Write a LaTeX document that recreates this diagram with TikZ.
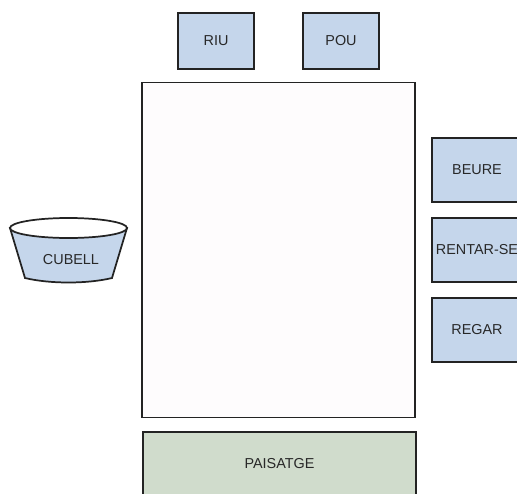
\documentclass[tikz,border=0pt]{standalone}
\usepackage{fontspec}
\setmainfont{Liberation Sans}
\definecolor{boxblue}{RGB}{197,214,235}
\definecolor{boxgreen}{RGB}{208,220,204}
\definecolor{sheet}{RGB}{254,252,253}
\definecolor{edgegray}{RGB}{35,35,35}
\definecolor{labelgray}{RGB}{40,40,40}

\tikzset{every picture/.style={line width=0.75pt}}
\tikzset{
  tool/.style={draw=edgegray, fill=boxblue, line width=1.3pt, inner sep=0pt,
    minimum width=57pt, minimum height=42pt, text=labelgray,
    font=\fontsize{10.8}{12}\selectfont},
  verb/.style={tool, minimum width=67.5pt, minimum height=48pt},
  land/.style={tool, fill=boxgreen, minimum width=204.75pt, minimum height=48pt},
  canvas/.style={draw=edgegray, fill=sheet, line width=1.3pt, inner sep=0pt,
    minimum width=204.75pt, minimum height=251.25pt}
}

\begin{document}
\begin{tikzpicture}[x=0.75pt,y=0.75pt,yscale=-1,xscale=1]
\useasboundingbox (0,0) rectangle (517,493);
\clip (0,0) rectangle (517,493);

%Shape: Rectangle [main sheet]
\node [canvas] (sheet) at (278.5,250) {};

% Top boxes
\node [tool] (riu) at (216,41) {RIU};
\node [tool] (pou) at (341,41) {POU};

% Right boxes
\node [verb] (beure) at (477,170) {BEURE};
\node [verb] (rentar) at (477,250) {RENTAR-SE};
\node [verb] (regar) at (477,330) {REGAR};

% Bottom box
\node [land] (paisatge) at (279.5,464) {PAISATGE};

%Shape: Bucket
\draw [draw=edgegray, fill=boxblue, line width=1.3pt] (10,228) -- (25,278) .. controls (50,284) and (87,284) .. (112,278) -- (127,228) -- cycle ;
\draw [draw=edgegray, fill=white, line width=1.3pt] (68.5,228) ellipse [x radius=58.5, y radius=10] ;
% Text Node
\node [text=labelgray, font=\fontsize{10.8}{12}\selectfont, inner sep=0pt] (cubell) at (71,260) {CUBELL};

\end{tikzpicture}
\end{document}
